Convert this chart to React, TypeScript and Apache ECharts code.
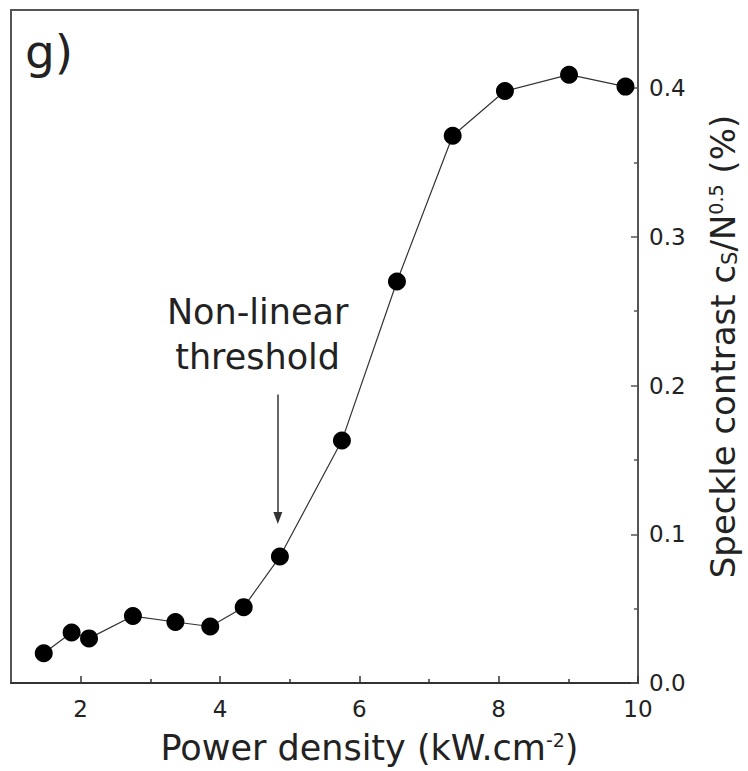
import React, { useEffect, useRef } from "react";
import * as echarts from "echarts";

const powerDensity = [1.47, 1.87, 2.12, 2.75, 3.36, 3.86, 4.34, 4.86, 5.75, 6.54, 7.34, 8.09, 9.01, 9.82];
const speckleContrast = [0.020, 0.034, 0.030, 0.045, 0.041, 0.038, 0.051, 0.085, 0.163, 0.270, 0.368, 0.398, 0.409, 0.401];
const xLabelTicks = [2, 4, 6, 8, 10];
const xMinorTicks = [3, 5, 7, 9];
const yLabelTicks = [0, 0.1, 0.2, 0.3, 0.4];
const yMinorTicks = [0.05, 0.15, 0.25, 0.35];
const arrowX = 4.83;
const arrowFrom = 0.194;
const arrowTo = 0.111;
const noteAnchor = [4.54, 0.234];

const FONT = "'DejaVu Sans', 'Liberation Sans', Arial, sans-serif";
const TXT = "#222";
const AXC = "#555";

export default function App() {
  const ref = useRef<HTMLDivElement>(null);
  useEffect(() => {
    if (!ref.current) return;
    const chart = echarts.init(ref.current, null, { renderer: "svg" });
    const xMin = 1, xMax = 10, yMin = 0, yMax = 0.4525;
    chart.setOption({
      animation: false,
      backgroundColor: "#fff",
      textStyle: { fontFamily: FONT },
      grid: { left: 11, right: 109, top: 10, bottom: 88, show: true, borderColor: AXC, borderWidth: 2 },
      xAxis: [
        {
          type: "value", min: xMin, max: xMax, interval: 1, position: "bottom",
          splitLine: { show: false },
          axisLine: { show: true, lineStyle: { color: "#333", width: 2 } },
          axisTick: { show: true, inside: true, length: 7, customValues: xLabelTicks, lineStyle: { color: "#333", width: 1.5 } },
          axisLabel: { customValues: xLabelTicks, fontSize: 23, color: TXT, margin: 14, fontFamily: FONT },
          name: "Power density (kW.cm{sup|-2})",
          nameLocation: "middle", nameGap: 47,
          nameTextStyle: {
            fontSize: 35, color: TXT, fontFamily: FONT, padding: [0, 0, 0, 90],
            rich: { sup: { fontSize: 19, verticalAlign: "top", color: TXT, fontFamily: FONT, padding: [0, 0, 12, 0] } },
          },
        },
        {
          type: "value", min: xMin, max: xMax, interval: 1, position: "bottom",
          splitLine: { show: false },
          axisLine: { show: false },
          axisTick: { show: true, inside: true, length: 4, customValues: xMinorTicks, lineStyle: { color: "#333", width: 1.5 } },
          axisLabel: { show: false },
        },
      ],
      yAxis: [
        {
          type: "value", min: yMin, max: yMax, interval: 0.1, position: "right",
          splitLine: { show: false },
          axisLine: { show: true, lineStyle: { color: AXC, width: 2 } },
          axisTick: { show: true, inside: true, length: 7, customValues: yLabelTicks, lineStyle: { color: AXC, width: 1.5 } },
          axisLabel: {
            customValues: yLabelTicks, fontSize: 23, color: TXT, margin: 11, fontFamily: FONT,
            formatter: (v: number) => v.toFixed(1),
          },
          name: "Speckle contrast c{sub|S}/N{sup|0.5} (%)",
          nameLocation: "middle", nameGap: 68, nameRotate: 90,
          nameTextStyle: {
            fontSize: 34, color: TXT, fontFamily: FONT,
            rich: {
              sub: { fontSize: 21, verticalAlign: "bottom", color: TXT, fontFamily: FONT },
              sup: { fontSize: 19, verticalAlign: "top", color: TXT, fontFamily: FONT },
            },
          },
        },
        {
          type: "value", min: yMin, max: yMax, interval: 0.1, position: "right",
          splitLine: { show: false },
          axisLine: { show: false },
          axisTick: { show: true, inside: true, length: 4, customValues: yMinorTicks, lineStyle: { color: AXC, width: 1.5 } },
          axisLabel: { show: false },
        },
      ],
      series: [
        {
          type: "line",
          xAxisIndex: 0, yAxisIndex: 0,
          data: powerDensity.map((x, i) => [x, speckleContrast[i]]),
          symbol: "circle", symbolSize: 18,
          itemStyle: { color: "#000" },
          lineStyle: { color: "#333", width: 1.2 },
          z: 3,
          markLine: {
            silent: true,
            symbol: ["none", "triangle"],
            symbolSize: [9, 12],
            symbolRotate: 180,
            label: { show: false },
            lineStyle: { color: "#333", width: 1.5, type: "solid" },
            data: [[{ coord: [arrowX, arrowFrom] }, { coord: [arrowX, arrowTo] }]],
          },
        },
      ],
    });
    const p = chart.convertToPixel({ xAxisIndex: 0, yAxisIndex: 0 }, noteAnchor) as number[];
    chart.setOption({
      graphic: [
        {
          type: "text", left: 25, top: 28,
          style: { text: "g)", fontSize: 47, fill: TXT, fontFamily: FONT },
        },
        {
          type: "text", x: p[0], y: p[1],
          style: {
            text: "Non-linear\nthreshold", fontSize: 35, lineHeight: 45, fill: TXT, fontFamily: FONT,
            align: "center", verticalAlign: "middle",
          },
        },
      ],
    });
    return () => chart.dispose();
  }, []);
  return <div ref={ref} style={{ position: "absolute", left: 0, top: 0, width: 748, height: 771 }} />;
}
